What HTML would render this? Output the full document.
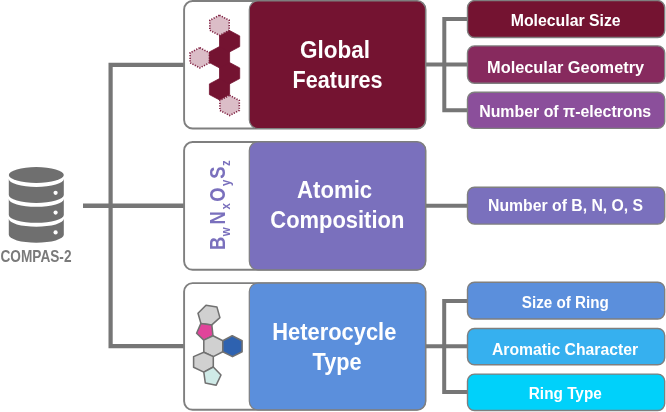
<!DOCTYPE html>
<html><head><meta charset="utf-8"><style>
html,body{margin:0;padding:0;background:#fff;overflow:hidden;width:666px;height:412px;}
svg{display:block;will-change:transform;font-family:"Liberation Sans",sans-serif;font-weight:bold;}
</style></head><body>
<svg width="666" height="412" viewBox="0 0 666 412">
<path d="M184,64.9 H110.6 V346.1 H184" fill="none" stroke="#767676" stroke-width="4.2" stroke-linejoin="miter"/>
<path d="M83,205.75 H184" fill="none" stroke="#767676" stroke-width="4.3"/>
<path d="M467,19.1 H444.3 V110.2 H467" fill="none" stroke="#767676" stroke-width="4"/>
<path d="M426,64.5 H467" fill="none" stroke="#767676" stroke-width="4"/>
<path d="M426,205.8 H467" fill="none" stroke="#767676" stroke-width="4"/>
<path d="M467,301 H444.2 V392 H467" fill="none" stroke="#767676" stroke-width="4"/>
<path d="M426,346.2 H467" fill="none" stroke="#767676" stroke-width="4"/>
<rect x="184.1" y="1.0" width="241.4" height="127.5" rx="8.5" fill="#fff" stroke="#7f7f7f" stroke-width="1.9"/>
<rect x="249.3" y="1.0" width="176.2" height="127.5" rx="8.5" fill="#741331" stroke="#7f7f7f" stroke-width="1.2"/>
<rect x="184.1" y="142.0" width="241.4" height="127.8" rx="8.5" fill="#fff" stroke="#7f7f7f" stroke-width="1.9"/>
<rect x="249.3" y="142.0" width="176.2" height="127.8" rx="8.5" fill="#7a70bd" stroke="#7f7f7f" stroke-width="1.2"/>
<rect x="184.1" y="283.1" width="241.4" height="126.7" rx="8.5" fill="#fff" stroke="#7f7f7f" stroke-width="1.9"/>
<rect x="249.3" y="283.1" width="176.2" height="126.7" rx="8.5" fill="#5b8fdc" stroke="#7f7f7f" stroke-width="1.2"/>
<rect x="467.5" y="0.6" width="197.2" height="36.9" rx="7" fill="#741331" stroke="#7f7f7f" stroke-width="1.4"/>
<rect x="467.5" y="45.9" width="197.2" height="37.4" rx="7" fill="#872a5e" stroke="#7f7f7f" stroke-width="1.4"/>
<rect x="467.5" y="92.2" width="197.2" height="36.2" rx="7" fill="#8b4f9b" stroke="#7f7f7f" stroke-width="1.4"/>
<rect x="467.5" y="187.2" width="197.2" height="36.9" rx="7" fill="#7a70bd" stroke="#7f7f7f" stroke-width="1.4"/>
<rect x="467.5" y="282.3" width="197.2" height="36.7" rx="7" fill="#5b8fdc" stroke="#7f7f7f" stroke-width="1.4"/>
<rect x="467.5" y="328.5" width="197.2" height="36.3" rx="7" fill="#36b0ef" stroke="#7f7f7f" stroke-width="1.4"/>
<rect x="467.5" y="374.1" width="197.2" height="36.4" rx="7" fill="#00d1fa" stroke="#7f7f7f" stroke-width="1.4"/>
<text x="335.0" y="57.9" font-size="23.8" fill="#fff" text-anchor="middle" textLength="70" lengthAdjust="spacingAndGlyphs">Global</text>
<text x="337.6" y="88.0" font-size="23.8" fill="#fff" text-anchor="middle" textLength="90" lengthAdjust="spacingAndGlyphs">Features</text>
<text x="334.6" y="197.7" font-size="23.8" fill="#fff" text-anchor="middle" textLength="75" lengthAdjust="spacingAndGlyphs">Atomic</text>
<text x="337.3" y="227.8" font-size="23.8" fill="#fff" text-anchor="middle" textLength="134" lengthAdjust="spacingAndGlyphs">Composition</text>
<text x="334.3" y="340.2" font-size="23.8" fill="#fff" text-anchor="middle" textLength="124" lengthAdjust="spacingAndGlyphs">Heterocycle</text>
<text x="337.1" y="370.0" font-size="23.8" fill="#fff" text-anchor="middle" textLength="49" lengthAdjust="spacingAndGlyphs">Type</text>
<text x="565.7" y="26.0" font-size="16.0" fill="#fff" text-anchor="middle" textLength="110" lengthAdjust="spacingAndGlyphs">Molecular Size</text>
<text x="565.6" y="72.9" font-size="16.0" fill="#fff" text-anchor="middle" textLength="157" lengthAdjust="spacingAndGlyphs">Molecular Geometry</text>
<text x="565.2" y="116.9" font-size="16.0" fill="#fff" text-anchor="middle" textLength="172" lengthAdjust="spacingAndGlyphs">Number of π-electrons</text>
<text x="565.6" y="211.4" font-size="16.0" fill="#fff" text-anchor="middle" textLength="155" lengthAdjust="spacingAndGlyphs">Number of B, N, O, S</text>
<text x="565.3" y="308.4" font-size="16.0" fill="#fff" text-anchor="middle" textLength="87" lengthAdjust="spacingAndGlyphs">Size of Ring</text>
<text x="565.0" y="354.8" font-size="16.0" fill="#fff" text-anchor="middle" textLength="146" lengthAdjust="spacingAndGlyphs">Aromatic Character</text>
<text x="565.3" y="399.2" font-size="16.0" fill="#fff" text-anchor="middle" textLength="73" lengthAdjust="spacingAndGlyphs">Ring Type</text>
<text x="36" y="262.0" font-size="15.9" fill="#7a7a7a" text-anchor="middle" textLength="71" lengthAdjust="spacingAndGlyphs">COMPAS-2</text>
<polygon points="219.50,15.20 229.20,20.30 229.20,30.30 219.50,35.40 209.80,30.30 209.80,20.30" fill="#dbbdc7" stroke="#7e1f40" stroke-width="1.6" stroke-dasharray="1.2 1.4"/>
<polygon points="199.80,47.70 209.50,52.80 209.50,62.80 199.80,67.90 190.10,62.80 190.10,52.80" fill="#dbbdc7" stroke="#7e1f40" stroke-width="1.6" stroke-dasharray="1.2 1.4"/>
<polygon points="229.60,95.30 239.30,100.40 239.30,110.40 229.60,115.50 219.90,110.40 219.90,100.40" fill="#dbbdc7" stroke="#7e1f40" stroke-width="1.6" stroke-dasharray="1.2 1.4"/>
<path d="M229.60,30.58 L239.70,35.92 L239.70,46.58 L229.60,51.92 L219.50,46.58 L219.50,35.92 Z M219.50,46.58 L229.60,51.92 L229.60,62.58 L219.50,67.92 L209.40,62.58 L209.40,51.92 Z M229.60,62.58 L239.70,67.92 L239.70,78.58 L229.60,83.92 L219.50,78.58 L219.50,67.92 Z M219.50,78.58 L229.60,83.92 L229.60,94.58 L219.50,99.92 L209.40,94.58 L209.40,83.92 Z" fill="#741331" stroke="#741331" stroke-width="0.8" stroke-linejoin="round"/>
<text transform="translate(224.6,243.45) rotate(-90) scale(0.85,1)" font-size="21.6" fill="#7a70bd" text-anchor="middle">B</text>
<text transform="translate(230.0,231.8) rotate(-90) scale(0.85,1)" font-size="13.5" fill="#7a70bd" text-anchor="middle">w</text>
<text transform="translate(224.6,217.8) rotate(-90) scale(0.85,1)" font-size="21.6" fill="#7a70bd" text-anchor="middle">N</text>
<text transform="translate(230.0,206.35) rotate(-90) scale(0.85,1)" font-size="13.5" fill="#7a70bd" text-anchor="middle">x</text>
<text transform="translate(224.6,194.65) rotate(-90) scale(0.85,1)" font-size="21.6" fill="#7a70bd" text-anchor="middle">O</text>
<text transform="translate(230.0,182.75) rotate(-90) scale(0.85,1)" font-size="13.5" fill="#7a70bd" text-anchor="middle">y</text>
<text transform="translate(224.6,172.65) rotate(-90) scale(0.85,1)" font-size="21.6" fill="#7a70bd" text-anchor="middle">S</text>
<text transform="translate(230.0,163.1) rotate(-90) scale(0.85,1)" font-size="13.5" fill="#7a70bd" text-anchor="middle">z</text>
<polygon points="206,305.2 216.9,306.9 219.9,317.6 211.8,324.9 200.9,323.4 198,313.2" fill="#d0d0d0" stroke="#717171" stroke-width="1.55" stroke-linejoin="round"/>
<polygon points="200.9,323.4 211.8,324.9 213,335.8 203.8,340.1 196.6,333.2" fill="#e0449a" stroke="#717171" stroke-width="1.55" stroke-linejoin="round"/>
<polygon points="203.8,340.1 213,335.7 222.8,340.8 222.8,351.7 213.3,356.6 203.8,352.2" fill="#d0d0d0" stroke="#717171" stroke-width="1.55" stroke-linejoin="round"/>
<polygon points="222.8,340.8 232.2,335.7 242.1,340.8 242.1,351.7 232.5,356.6 222.8,351.7" fill="#2e62b0" stroke="#717171" stroke-width="1.55" stroke-linejoin="round"/>
<polygon points="203.8,352.2 213.3,356.6 213.3,367 203.8,372.1 193.6,367.3 193.6,356.6" fill="#d0d0d0" stroke="#717171" stroke-width="1.55" stroke-linejoin="round"/>
<polygon points="203.8,372.1 213.3,367 221,375 216.2,385.2 205.3,383" fill="#cfeae7" stroke="#717171" stroke-width="1.55" stroke-linejoin="round"/>
<ellipse cx="36.3" cy="175" rx="27.5" ry="7.9" fill="#6f6f6f"/>
<path d="M8.799999999999997,179.0 A27.5,7.9 0 0 0 63.8,179.0 V195.0 A27.5,7.9 0 0 1 8.799999999999997,195.0 Z" fill="#6f6f6f"/>
<path d="M8.799999999999997,198.9 A27.5,7.9 0 0 0 63.8,198.9 V214.9 A27.5,7.9 0 0 1 8.799999999999997,214.9 Z" fill="#6f6f6f"/>
<path d="M8.799999999999997,218.8 A27.5,7.9 0 0 0 63.8,218.8 V234.8 A27.5,7.9 0 0 1 8.799999999999997,234.8 Z" fill="#6f6f6f"/>
<circle cx="55.6" cy="192.8" r="2.1" fill="#fff"/>
<circle cx="55.6" cy="212.6" r="2.1" fill="#fff"/>
<circle cx="55.6" cy="232.4" r="2.1" fill="#fff"/>
</svg>
</body></html>
